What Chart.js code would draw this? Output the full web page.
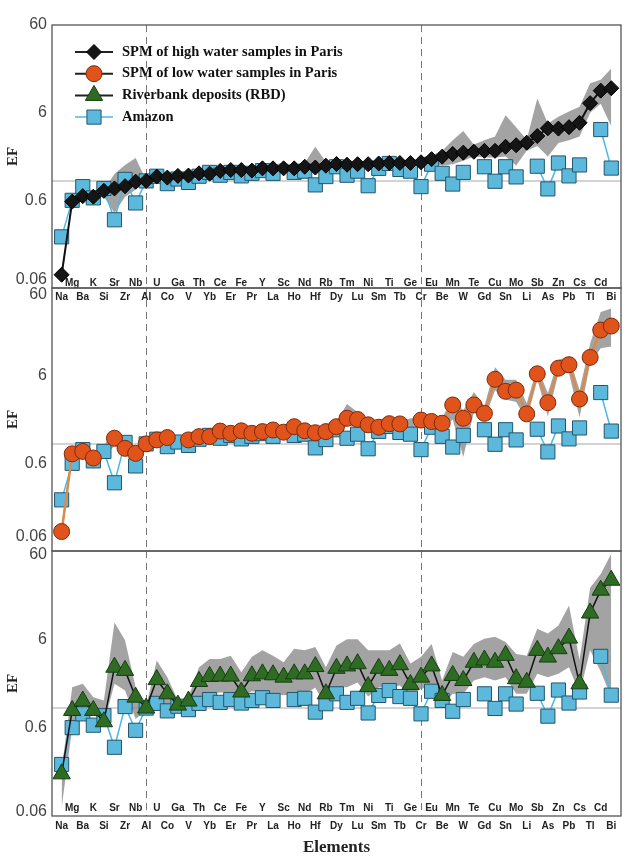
<!DOCTYPE html>
<html lang="en">
<head>
<meta charset="UTF-8">
<title>EF of elements</title>
<script src="https://cdn.jsdelivr.net/npm/chart.js"></script>
<style>
  body { margin: 0; background: #fff; }
  #wrap { position: relative; width: 632px; height: 859px; }
  canvas { position: absolute; left: 0; top: 0; }
</style>
</head>
<body>
<div id="wrap">
  <canvas id="c1" width="632" height="859"></canvas>
  <canvas id="c2" width="632" height="859"></canvas>
  <canvas id="c3" width="632" height="859"></canvas>
</div>
<script>
const elements = ['Na','Mg','Ba','K','Si','Sr','Zr','Nb','Al','U','Co','Ga','V','Th','Yb','Ce','Er','Fe','Pr','Y','La','Sc','Ho','Nd','Hf',
  'Rb','Dy','Tm','Lu','Ni','Sm','Ti','Tb','Ge','Cr','Eu','Be','Mn','W','Te','Gd','Cu','Sn','Mo','Li','Sb','As','Zn','Pb','Cs','Tl','Cd','Bi'];
const yTicks = [0.06, 0.6, 6, 60];
const dashedAt = ['Al', 'Cr'];

const amazon = [0.23,0.60,0.86,0.64,0.82,0.36,1.04,0.56,1.0,1.13,0.93,1.05,0.96,1.13,1.25,1.16,1.25,1.14,1.22,1.31,1.22,null,1.25,1.29,0.90,
  1.12,1.45,1.16,1.29,0.88,1.39,1.58,1.35,1.29,0.86,1.55,1.22,0.92,1.25,null,1.45,0.99,1.45,1.11,null,1.47,0.81,1.6,1.14,1.52,null,3.85,1.4];

const highWater = [0.085,0.58,0.67,0.66,0.77,0.82,0.87,0.98,1.0,1.12,1.09,1.14,1.15,1.22,1.21,1.30,1.33,1.33,1.31,1.39,1.39,1.39,1.39,1.45,1.42,
  1.49,1.56,1.53,1.55,1.55,1.58,1.60,1.60,1.60,1.63,1.77,1.89,2.03,2.10,2.15,2.20,2.20,2.45,2.55,2.73,3.25,3.98,3.95,4.1,4.6,7.7,10.7,11.4];
const highUpper = [0.095,0.62,0.72,0.70,0.80,1.2,1.52,1.82,1.02,1.2,1.17,1.22,1.23,1.3,1.3,1.4,1.43,1.42,1.42,1.5,1.52,1.62,1.5,1.6,2.45,
  1.65,1.7,1.72,1.68,1.68,1.72,1.8,1.74,1.74,1.78,1.95,2.2,2.9,3.7,2.6,2.9,3.2,5.6,4.1,2.95,8.7,4.5,5.4,6.2,7.0,13,14.2,19.2];
const highLower = [0.075,0.55,0.62,0.62,0.66,0.43,0.66,0.79,0.98,1.05,1.02,1.07,1.08,1.15,1.13,1.22,1.25,1.25,1.22,1.3,1.28,1.28,1.3,1.35,1.32,
  1.38,1.44,1.42,1.44,1.44,1.46,1.48,1.48,1.48,1.5,1.6,1.5,1.55,1.7,1.9,1.85,1.85,1.9,1.5,2.2,2.5,1.9,2.7,2.9,3.2,6.0,7.6,4.2];

const lowWater = [0.10,0.77,0.82,0.69,null,1.16,0.89,0.78,1.0,1.11,1.18,null,1.11,1.21,1.21,1.40,1.32,1.41,1.32,1.38,1.44,1.36,1.57,1.41,1.34,
  1.38,1.57,1.96,1.90,1.65,1.55,1.70,1.69,null,1.87,1.80,1.72,2.78,1.96,2.78,2.23,5.45,3.98,4.1,2.2,6.3,2.95,7.3,8.0,3.25,9.7,19.9,22.1];
const lowUpper = [0.12,0.82,0.9,0.75,0.95,1.45,1.1,0.9,1.05,1.2,1.25,1.2,1.2,1.3,1.3,1.5,1.42,1.52,1.42,1.48,1.55,1.45,1.72,1.52,1.45,
  1.5,1.8,2.85,2.3,1.85,1.75,1.85,1.85,1.95,2.05,2.1,2.0,3.3,2.4,3.9,2.7,7.5,5.4,5.4,2.9,7.5,3.8,9.1,9.9,4.1,14,32,35];
const lowLower = [0.08,0.72,0.75,0.62,0.7,0.95,0.8,0.7,0.95,1.0,1.05,1.0,1.0,1.1,1.1,1.28,1.2,1.28,1.2,1.25,1.3,1.2,1.4,1.28,1.22,
  1.25,1.35,1.6,1.6,1.5,1.4,1.55,1.55,1.5,1.6,1.6,1.5,1.9,0.71,2.3,1.9,4.1,3.2,3.0,1.9,5.4,2.05,6.4,6.4,2.0,8.3,12.3,12.9];

const rbd = [0.18,0.94,1.2,0.94,0.7,2.9,2.67,1.33,1.0,2.1,1.45,1.08,1.2,2.0,2.28,2.3,2.3,1.52,2.32,2.44,2.38,2.24,2.44,2.44,2.95,
  1.45,2.82,3.0,3.18,1.75,2.82,2.67,3.1,1.85,2.24,3.0,1.39,2.34,2.05,3.3,3.5,3.3,3.95,2.15,1.96,4.5,3.78,4.7,6.2,1.88,11.9,21.6,28];
const rbdUpper = [0.2,1.72,1.88,1.33,1.22,9.3,5.85,1.72,1.05,3.46,2.24,1.22,1.33,2.9,3.6,3.6,3.9,2.55,3.8,4.5,3.9,3.3,4.7,4.5,4.9,
  2.9,5.1,6.0,6.0,4.5,4.5,4.5,5.4,3.2,3.8,5.3,2.05,4.3,3.8,5.3,6.1,6.4,5.6,4.1,3.9,7.9,7.0,8.6,14.5,3.5,23,33,56];
const rbdLower = [0.074,0.6,0.86,0.86,0.66,1.88,1.58,0.75,0.95,1.33,1.02,0.98,0.98,1.33,1.45,1.5,1.5,1.33,1.55,1.5,1.45,1.4,1.45,1.45,1.7,
  1.05,1.72,1.72,1.95,1.35,1.72,1.72,1.8,1.4,1.65,1.72,1.05,1.45,1.45,2.05,2.24,2.05,2.24,1.45,1.45,2.44,2.24,2.44,2.9,1.45,4.5,2.6,1.33];

const legendLabels = ['SPM of high water samples in Paris', 'SPM of low water samples in Paris', 'Riverbank deposits (RBD)', 'Amazon'];

// marker / line styles
const sHigh = { pointStyle: 'rectRot', radius: 7.5, fill: '#151515', border: '#000', line: '#111', lineWidth: 2 };
const sLow = { pointStyle: 'circle', radius: 8, fill: '#e0531b', border: '#7e2a0b', line: '#d98a4f', lineWidth: 2.5 };
const sRbd = { pointStyle: 'triangle', radius: 10, fill: '#2e6b23', border: '#163d11', line: '#111', lineWidth: 1.5 };
const sAmazon = { pointStyle: 'rect', radius: 10, fill: '#5cb9dc', border: '#23566c', line: '#4ab8e6', lineWidth: 1.5 };
const bandColor = 'rgba(140,140,140,0.8)';

const toXY = arr => arr.map((v, i) => ({ x: i, y: v }));

function drawMarker(ctx, s, x, y) {
  const r = s.radius;
  ctx.beginPath();
  if (s.pointStyle === 'rectRot') {
    ctx.moveTo(x, y - r); ctx.lineTo(x + r, y); ctx.lineTo(x, y + r); ctx.lineTo(x - r, y);
  } else if (s.pointStyle === 'circle') {
    ctx.arc(x, y, r, 0, Math.PI * 2);
  } else if (s.pointStyle === 'triangle') {
    ctx.moveTo(x, y - r); ctx.lineTo(x + r * 0.866, y + r / 2); ctx.lineTo(x - r * 0.866, y + r / 2);
  } else {
    const h = r * Math.SQRT1_2;
    ctx.rect(x - h, y - h, 2 * h, 2 * h);
  }
  ctx.closePath();
  ctx.fillStyle = s.fill; ctx.strokeStyle = s.border; ctx.lineWidth = 1;
  ctx.fill(); ctx.stroke();
}

// EF = 1 line, dashed separators, frame
const guides = {
  id: 'guides',
  beforeDatasetsDraw(chart) {
    const { ctx, chartArea: a, scales: { x, y } } = chart;
    ctx.save();
    const y1 = y.getPixelForValue(1);
    ctx.strokeStyle = '#c4c4c4'; ctx.lineWidth = 1.5;
    ctx.beginPath(); ctx.moveTo(a.left, y1); ctx.lineTo(a.right, y1); ctx.stroke();
    ctx.strokeStyle = '#777'; ctx.lineWidth = 1; ctx.setLineDash([7, 5]);
    dashedAt.forEach(el => {
      const px = Math.round(x.getPixelForValue(elements.indexOf(el))) + 0.5;
      ctx.beginPath(); ctx.moveTo(px, a.top); ctx.lineTo(px, a.bottom); ctx.stroke();
    });
    ctx.restore();
  },
  afterDraw(chart) {
    const { ctx, chartArea: a } = chart;
    ctx.save();
    ctx.strokeStyle = '#555'; ctx.lineWidth = 1.3;
    ctx.strokeRect(a.left, a.top, a.right - a.left, a.bottom - a.top);
    ctx.restore();
  }
};

const legendBox = {
  id: 'legendBox',
  afterDraw(chart) {
    const ctx = chart.ctx;
    const styles = [sHigh, sLow, sRbd, sAmazon];
    const lines = ['#222', '#222', '#222', sAmazon.line];
    ctx.save();
    legendLabels.forEach((t, i) => {
      const y = 52 + i * 21.7;
      ctx.strokeStyle = lines[i]; ctx.lineWidth = i === 3 ? 1.5 : 2;
      ctx.beginPath(); ctx.moveTo(75, y); ctx.lineTo(113, y); ctx.stroke();
      drawMarker(ctx, styles[i], 94, y);
      ctx.fillStyle = '#111';
      ctx.font = 'bold 14.5px "Liberation Serif"';
      ctx.textBaseline = 'middle';
      ctx.fillText(t, 122, y);
    });
    ctx.restore();
  }
};

function seriesDataset(values, s, order) {
  return {
    data: toXY(values), borderColor: s.line, borderWidth: s.lineWidth, tension: 0,
    pointStyle: s.pointStyle, pointRadius: s.radius, pointBackgroundColor: s.fill,
    pointBorderColor: s.border, pointBorderWidth: 1, order: order, clip: false
  };
}

function panel(id, o) {
  return new Chart(document.getElementById(id), {
    type: 'line',
    data: {
      datasets: [
        seriesDataset(o.main, o.style, 0),
        seriesDataset(amazon, sAmazon, 1),
        { data: toXY(o.upper), fill: '+1', backgroundColor: bandColor, borderColor: 'transparent', borderWidth: 0, pointRadius: 0, order: 2 },
        { data: toXY(o.lower), fill: false, borderColor: 'transparent', borderWidth: 0, pointRadius: 0, order: 3 }
      ]
    },
    options: {
      responsive: false,
      animation: false,
      devicePixelRatio: 1,
      layout: { padding: { left: 0, right: 4, top: o.top, bottom: o.padBottom } },
      plugins: { legend: { display: false }, tooltip: { enabled: false } },
      scales: {
        x: {
          type: 'linear', min: -0.91, max: 52.92,
          afterBuildTicks: s => { s.ticks = elements.map((e, i) => ({ value: i })); },
          afterFit: s => { s.height = o.xHeight; },
          grid: { display: false, drawTicks: false },
          border: { display: false },
          ticks: {
            display: o.xLabels, autoSkip: false, maxRotation: 0, minRotation: 0,
            mirror: true, padding: o.xPad, color: '#222',
            font: { family: 'Liberation Sans', size: 10, weight: 'bold', lineHeight: o.xLH + 'px' },
            callback: v => { const i = Math.round(v); return i % 2 ? [elements[i], ''] : ['', elements[i]]; }
          },
          title: {
            display: !!o.xTitle, text: o.xTitle || '', color: '#222', padding: 0,
            font: { family: 'Liberation Serif', size: 17, weight: 'bold' }
          }
        },
        y: {
          type: 'logarithmic', min: 0.06, max: 60,
          afterBuildTicks: s => { s.ticks = yTicks.map(v => ({ value: v })); },
          afterFit: s => { s.width = 52; },
          grid: { display: false, drawTicks: false },
          border: { display: false },
          ticks: {
            padding: 5, color: '#444',
            font: { family: 'Liberation Sans', size: 16, lineHeight: o.yLH + 'px' },
            callback: v => o.yLabel(v)
          },
          title: {
            display: true, text: 'EF', color: '#222', padding: { top: 4, bottom: 0 },
            font: { family: 'Liberation Serif', size: 15, weight: 'bold' }
          }
        }
      }
    },
    plugins: o.legend ? [guides, legendBox] : [guides]
  });
}

panel('c1', {
  main: highWater, upper: highUpper, lower: highLower, style: sHigh, legend: true,
  top: 25, padBottom: 551, xHeight: 20, xLabels: true, xPad: -2, xLH: 14, yLH: 16,
  yLabel: v => v === 0.06 ? ['0.06', ''] : String(v)
});
panel('c2', {
  main: lowWater, upper: lowUpper, lower: lowLower, style: sLow,
  top: 288, padBottom: 308, xHeight: 0, xLabels: false, xPad: 0, xLH: 12, yLH: 14,
  yLabel: v => v === 60 ? ['', '60'] : v === 0.06 ? ['0.06', '', ''] : String(v)
});
panel('c3', {
  main: rbd, upper: rbdUpper, lower: rbdLower, style: sRbd, xTitle: 'Elements',
  top: 551, padBottom: 1, xHeight: 42, xLabels: true, xPad: -1, xLH: 18, yLH: 8,
  yLabel: v => v === 60 ? ['', '60'] : v === 0.06 ? ['0.06', ''] : String(v)
});
</script>
</body>
</html>
